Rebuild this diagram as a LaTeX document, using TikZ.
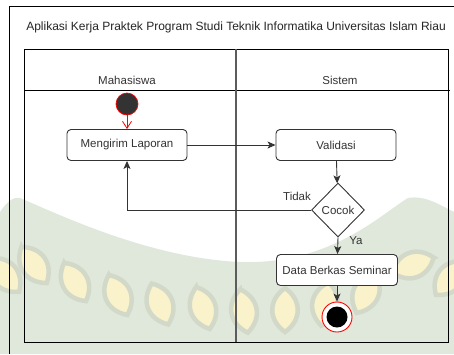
\documentclass[tikz,border=0pt]{standalone}
\usepackage{fontspec}
\setmainfont{Liberation Sans}
\usetikzlibrary{arrows.meta,shapes.geometric}
\definecolor{ink}{HTML}{333333}
\definecolor{hill}{RGB}{224,232,220}
\definecolor{leaf}{RGB}{249,242,202}
\definecolor{leafrim}{RGB}{210,217,201}
\definecolor{mark}{HTML}{FF0000}
\tikzset{
  act/.style={draw=ink, line width=0.9pt, rounded corners=4pt, fill=white, minimum width=120pt, minimum height=31pt, inner sep=0pt, text=ink, font=\fontsize{11.5}{13}\selectfont},
  dec/.style={draw=ink, line width=0.9pt, diamond, fill=white, minimum width=53pt, minimum height=54pt, inner sep=0pt, text=ink, font=\fontsize{11.5}{13}\selectfont, aspect=1},
  flow/.style={draw=ink, line width=0.9pt, -{Stealth[length=8pt,width=7pt,inset=2pt]}},
  lbl/.style={text=ink, font=\fontsize{11.5}{13}\selectfont},
  lane/.style={draw=black, line width=0.9pt},
  leafshape/.style={fill=leaf, draw=leafrim, line width=4.5pt}
}
\begin{document}
\begin{tikzpicture}[x=1pt,y=-1pt]
\useasboundingbox (0,0) rectangle (454,354);
\fill[white] (0,0) rectangle (454,354);
% faint background hills and a row of leaves
\fill[hill] (0,212) .. controls (8,200) and (14,197) .. (20,198)
  .. controls (60,215) and (150,258) .. (240,262)
  .. controls (330,265) and (380,215) .. (408,198)
  .. controls (425,195) and (440,205) .. (454,212)
  -- (454,354) -- (0,354) -- cycle;
\foreach \px/\py/\ang in {5/275/40, 34/265/35, 75/282/30, 118/295/25, 160/304/22, 203/308/18, 244/311/10, 285/310/0, 325/304/-10, 366/293/-25, 413/265/-70, 450/278/-40}
  \draw[leafshape, shift={(\px,\py)}, rotate=\ang]
    (0,-22) .. controls (17,-10) and (17,10) .. (0,22)
    .. controls (-17,10) and (-17,-10) .. cycle;
% outer frame
\draw[line width=0.9pt, black] (9,354) -- (9,6) -- (454,6);
% title
\node[lbl, text=black!85, font=\fontsize{12}{14}\selectfont] (title) at (236,27) {Aplikasi Kerja Praktek Program Studi Teknik Informatika Universitas Islam Riau};
% swimlanes
\draw[lane] (24,49) rectangle (448,342);
\draw[lane] (24,90) -- (450,90);
\draw[draw=ink!80, line width=1.2pt] (236,49) -- (236,342);
\node[lbl] (lanea) at (127,80) {Mahasiswa};
\node[lbl] (laneb) at (340,80) {Sistem};
% start
\node[circle, fill=ink, draw=mark, line width=0.7pt, minimum size=22pt, inner sep=0pt] (start) at (127,104) {};
% activities
\node[act] (kirim) at (127,145) {Mengirim Laporan};
\node[act] (valid) at (336,145) {Validasi};
\node[dec] (cocok) at (338,210) {Cocok};
\node[act, minimum width=121pt] (berkas) at (337,270) {Data Berkas Seminar};
% end
\node[circle, draw=mark, line width=0.9pt, fill=white, minimum size=30pt, inner sep=0pt] (finish) at (337,317) {};
\node[circle, fill=black, minimum size=21pt, inner sep=0pt] (finishdot) at (337,317) {};
% connectors
\draw[draw=mark, line width=0.8pt, -{Straight Barb[length=7pt,width=9pt]}] (start) -- (kirim);
\draw[flow] (kirim) -- (valid);
\draw[flow] (valid) -- (cocok);
\draw[flow] (cocok.west) -| (kirim.south);
\draw[flow] (cocok.south) -- (berkas);
\draw[flow] (berkas) -- (finish);
\node[lbl] (tidak) at (297,196) {Tidak};
\node[lbl] (ya) at (356,241) {Ya};
\end{tikzpicture}
\end{document}
